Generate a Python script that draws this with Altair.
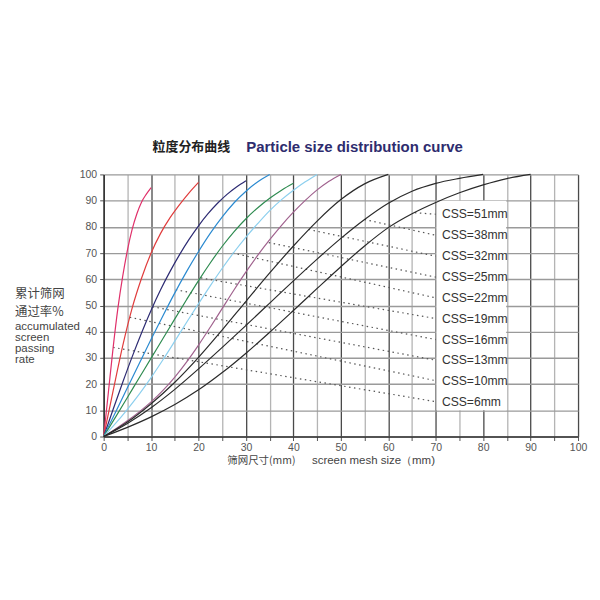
import altair as alt
import pandas as pd

# ---- curve data (screen mesh size mm -> accumulated passing %) ----
css_names = ["CSS=6mm", "CSS=10mm", "CSS=13mm", "CSS=16mm", "CSS=19mm",
             "CSS=22mm", "CSS=25mm", "CSS=32mm", "CSS=38mm", "CSS=51mm"]
css_colors = ["#e0306a", "#e03c3c", "#2d2b73", "#2b8ad0", "#2e8b50",
              "#8ccfee", "#a0628e", "#2a2a2a", "#2a2a2a", "#2a2a2a"]

css6_x = [0, 1, 2, 3, 4, 5, 6, 7, 8, 9, 10]
css6_y = [0, 17, 34, 49, 61, 71, 79, 85, 89.5, 92.5, 95]
css10_x = [0, 2, 4, 6, 8, 10, 12, 14, 16, 18, 20]
css10_y = [0, 17.5, 34.5, 49, 60.5, 70, 77.5, 83.5, 88.5, 93, 97]
css13_x = [0, 2, 4, 6, 8, 10, 12, 14, 16, 18, 20, 22, 24, 26, 28, 30]
css13_y = [0, 10.4, 20.6, 30.4, 39.6, 48.2, 56, 63, 69.4, 75.2, 80.4, 85, 89, 92.4, 95.2, 97.6]
css16_x = [0, 2.5, 5, 7.5, 10, 12.5, 15, 17.5, 20, 22.5, 25, 27.5, 30, 32.5, 35]
css16_y = [0, 9.3, 18.6, 27.9, 37.1, 46.1, 54.8, 63, 70.6, 77.6, 83.8, 89.2, 93.6, 97.2, 100]
css19_x = [0, 2.5, 5, 7.5, 10, 12.5, 15, 17.5, 20, 22.5, 25, 27.5, 30, 32.5, 35, 37.5, 40]
css19_y = [0, 7.4, 14.9, 22.4, 29.9, 37.4, 44.9, 52.3, 59.5, 66.3, 72.6, 78.2, 83.1, 87.3, 90.9, 94.0, 96.6]
css22_x = [0, 2.5, 5, 7.5, 10, 12.5, 15, 17.5, 20, 22.5, 25, 27.5, 30, 32.5, 35, 37.5, 40, 42.5, 45]
css22_y = [0, 5, 10.4, 16.2, 22.5, 29.3, 36.4, 43.6, 50.7, 57.6, 64.2, 70.4, 76.1, 81.3, 86.2, 90.4, 94, 97.2, 100]
css25_x = [0, 2.5, 5, 7.5, 10, 12.5, 15, 17.5, 20, 22.5, 25, 27.5, 30, 32.5, 35, 37.5, 40, 42.5, 45, 47.5, 50]
css25_y = [0, 2.9, 6, 9.4, 13.2, 17.6, 22.7, 28.5, 34.9, 41.8, 48.9, 56, 62.8, 69.2, 75.1, 80.6, 85.6, 90.1, 94.1, 97.4, 100]
css32_x = [0, 5, 10, 15, 20, 25, 30, 35, 40, 45, 50, 55, 60]
css32_y = [0, 5.5, 12.5, 20.7, 30.2, 40.7, 51.6, 62.4, 72.7, 82.2, 90.4, 96.4, 100]
css38_x = [0, 5, 10, 15, 20, 25, 30, 35, 40, 45, 50, 55, 60, 65, 70, 75, 80]
css38_y = [0, 5, 11, 18, 25.8, 34, 42.4, 50.9, 59.4, 67.7, 75.6, 82.8, 89, 93.6, 96.6, 98.5, 100]
css51_x = [0, 5, 10, 15, 20, 25, 30, 35, 40, 45, 50, 55, 60, 65, 70, 75, 80, 85, 90]
css51_y = [0, 3.5, 7.5, 12.2, 17.8, 24.4, 31.8, 39.8, 48.1, 56.5, 64.8, 72.7, 79.7, 85, 89.3, 93, 96, 98.4, 100]

curves_x = [css6_x, css10_x, css13_x, css16_x, css19_x, css22_x, css25_x, css32_x, css38_x, css51_x]
curves_y = [css6_y, css10_y, css13_y, css16_y, css19_y, css22_y, css25_y, css32_y, css38_y, css51_y]

# leader lines: start on curve -> end at label box
leader_x1 = [2, 5.5, 10.3, 15.2, 20.5, 27.2, 34.8, 43.2, 55, 65.6]
leader_y1 = [34, 45.5, 49.5, 56, 60.5, 70, 74, 79, 82.8, 85.4]
label_y = [13.3, 21.3, 29.1, 37, 45, 52.9, 60.8, 68.8, 76.8, 84.8]
leader_x2 = 70
label_x = 71.3

# label box
box = pd.DataFrame({"x": [70.15], "x2": [84.85], "y": [10], "y2": [90]})

rows = []
for name, xs, ys in zip(css_names, curves_x, curves_y):
    for i, (a, b) in enumerate(zip(xs, ys)):
        rows.append({"css": name, "x": a, "y": b, "i": i})
curves = pd.DataFrame(rows)

leaders = pd.DataFrame({"x": leader_x1, "y": leader_y1,
                        "x2": [leader_x2] * 10, "y2": label_y})
labels = pd.DataFrame({"x": [label_x] * 10, "y": label_y, "text": css_names})

xs_scale = alt.Scale(domain=[0, 100], nice=False, zero=False)
ys_scale = alt.Scale(domain=[0, 100], nice=False, zero=False)

x_axis = alt.Axis(
    values=list(range(0, 101, 5)),
    labelExpr="datum.value % 10 === 0 ? datum.label : ''",
    labelFlush=False, labelOverlap=False,
    grid=True,
    gridColor={"condition": {"test": "datum.value % 10 === 0", "value": "#4a4a4a"},
               "value": "#b4b4b4"},
    gridWidth=1.3,
    domainColor="#333333", domainWidth=1.5,
    tickColor="#555555", tickSize=4, labelPadding=2,
    labelFont="Liberation Sans", labelFontSize=10.5, labelColor="#555555",
    title=None,
)
y_axis = alt.Axis(
    values=list(range(0, 101, 10)),
    labelFlush=False, labelOverlap=False,
    grid=True, gridColor="#9a9a9a", gridWidth=1.4,
    domainColor="#333333", domainWidth=1.5,
    tickColor="#555555", tickSize=4, labelPadding=3,
    labelFont="Liberation Sans", labelFontSize=10.5, labelColor="#555555",
    title=None,
)

X = alt.X("x:Q", scale=xs_scale, axis=x_axis)
Y = alt.Y("y:Q", scale=ys_scale, axis=y_axis)

box_layer = alt.Chart(box).mark_rect(fill="white").encode(
    x=X, x2="x2:Q", y=Y, y2="y2:Q")

leader_layer = alt.Chart(leaders).mark_rule(
    color="#555555", strokeWidth=1.2, strokeDash=[1.5, 3.5]).encode(
    x=X, x2="x2:Q", y=Y, y2="y2:Q")

curve_layer = alt.Chart(curves).mark_line(strokeWidth=1.2, interpolate="monotone").encode(
    x=X, y=Y,
    color=alt.Color("css:N", scale=alt.Scale(domain=css_names, range=css_colors), legend=None),
    detail="css:N",
    order="i:Q",
)

label_layer = alt.Chart(labels).mark_text(
    align="left", baseline="middle", font="Liberation Sans", fontSize=12.2, color="#333333"
).encode(x=X, y=Y, text="text:N")

title_cn = alt.Chart(pd.DataFrame({"t": ["粒度分布曲线"]})).mark_text(
    align="left", baseline="middle", font="Noto Sans CJK SC", fontSize=13,
    fontWeight="bold", color="#222222"
).encode(x=alt.value(49), y=alt.value(-28), text="t:N")

title_en = alt.Chart(pd.DataFrame({"t": ["Particle size distribution curve"]})).mark_text(
    align="left", baseline="middle", font="Liberation Sans", fontSize=15,
    fontWeight="bold", color="#2e2c6e"
).encode(x=alt.value(143), y=alt.value(-28), text="t:N")

ytitle_lines = ["累计筛网", "通过率%", "accumulated", "screen", "passing", "rate"]
ytitle_pos = [119.5, 138.5, 153, 164, 175, 186]
ytitle_fonts = ["Noto Sans CJK SC", "Noto Sans CJK SC", "Liberation Sans",
                "Liberation Sans", "Liberation Sans", "Liberation Sans"]
ytitle_sizes = [12.5, 12.5, 11.5, 11.5, 11.5, 11.5]
ytitle_layers = []
for t, p, f, s in zip(ytitle_lines, ytitle_pos, ytitle_fonts, ytitle_sizes):
    ytitle_layers.append(
        alt.Chart(pd.DataFrame({"t": [t]})).mark_text(
            align="left", baseline="middle", font=f, fontSize=s, color="#444444"
        ).encode(x=alt.value(-89), y=alt.value(p), text="t:N"))

xtitle_cn = alt.Chart(pd.DataFrame({"t": ["筛网尺寸(mm)"]})).mark_text(
    align="left", baseline="middle", font="Noto Sans CJK SC", fontSize=10.5, color="#444444"
).encode(x=alt.value(124), y=alt.value(288), text="t:N")
xtitle_en = alt.Chart(pd.DataFrame({"t": ["screen mesh size（mm)"]})).mark_text(
    align="left", baseline="middle", font="Liberation Sans", fontSize=11.5, color="#444444"
).encode(x=alt.value(209), y=alt.value(288), text="t:N")

chart = alt.layer(
    box_layer, leader_layer, curve_layer, label_layer,
    title_cn, title_en, xtitle_cn, xtitle_en, *ytitle_layers
).properties(
    width=476, height=263,
    padding={"left": 96, "top": 166, "right": 14, "bottom": 150},
    autosize=alt.AutoSizeParams(type="none"),
    background="white",
).configure_view(stroke=None)

chart.save("out.html", embed_options={"renderer": "svg", "actions": False})
